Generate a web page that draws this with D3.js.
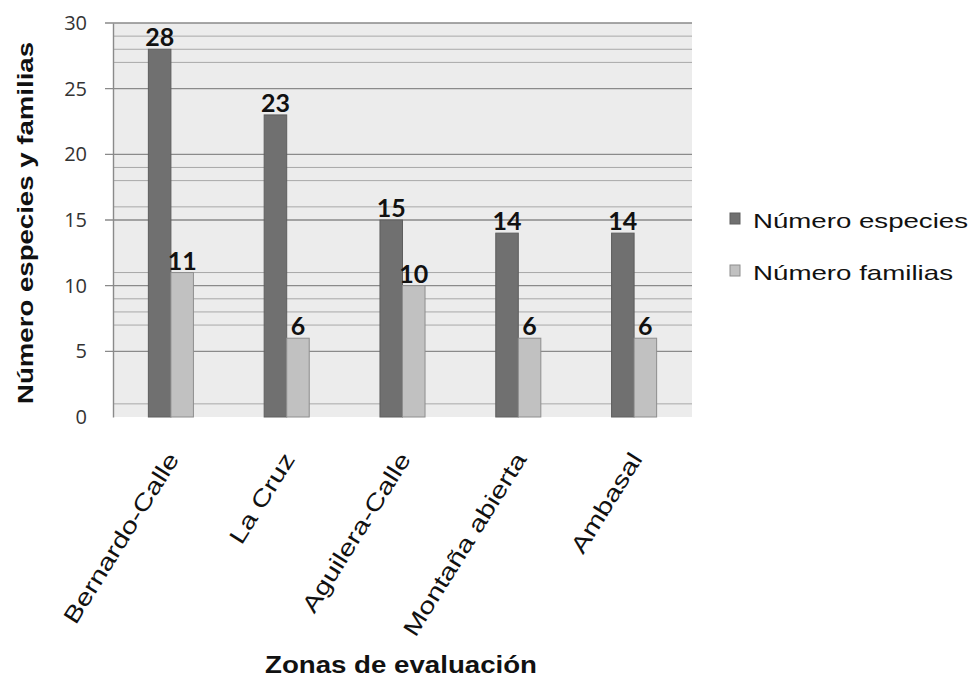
<!DOCTYPE html>
<html>
<head>
<meta charset="utf-8">
<script src="https://cdn.jsdelivr.net/npm/d3@7"></script>
<style>
  html, body { margin: 0; padding: 0; background: #fff; }
  svg { display: block; }
</style>
</head>
<body>
<svg id="chart" width="976" height="681"></svg>
<script>
const categories = ["Bernardo-Calle", "La Cruz", "Aguilera-Calle", "Montaña abierta", "Ambasal"];
const seriesNames = ["Número especies", "Número familias"];
const especies = [28, 23, 15, 14, 14];
const familias = [11, 6, 10, 6, 6];
const majorTicks = [0, 5, 10, 15, 20, 25, 30];
const minorGrid = [29, 28, 27, 19, 18, 16, 11, 9, 8, 7, 1];

(function () {
const svg = d3.select("#chart");
const pL = 113, pR = 692, pT = 23, pB = 417;

const x = d3.scaleBand().domain(categories).range([pL, pR]);
const x1 = d3.scaleBand().domain(seriesNames).range([0, x.bandwidth()]).paddingOuter(1.57);
const y = d3.scaleLinear().domain([0, 30]).range([pB, pT]);
const color = d3.scaleOrdinal().domain(seriesNames).range(["#707070", "#c1c1c1"]);
const stroke = d3.scaleOrdinal().domain(seriesNames).range(["#5e5e5e", "#8e8e8e"]);

// plot background
svg.append("rect").attr("x", pL).attr("y", pT)
  .attr("width", pR - pL).attr("height", pB - pT)
  .attr("fill", "#ececec");

// minor grid
svg.append("g").selectAll("line").data(minorGrid).join("line")
  .attr("x1", pL).attr("x2", pR)
  .attr("y1", d => y(d)).attr("y2", d => y(d))
  .attr("stroke", "#a8a8a8").attr("stroke-width", 1);

// major grid + ticks
svg.append("g").selectAll("line").data(majorTicks.filter(d => d > 0)).join("line")
  .attr("x1", pL - 8).attr("x2", pR)
  .attr("y1", d => y(d)).attr("y2", d => y(d))
  .attr("stroke", "#8a8a8a").attr("stroke-width", 1.4);

// y axis labels
const yAxis = svg.append("g").attr("transform", `translate(${pL},0)`)
  .call(d3.axisLeft(y).tickValues(majorTicks).tickSize(0).tickPadding(26));
yAxis.select(".domain").attr("stroke", "#8a8a8a").attr("stroke-width", 1.4);
yAxis.selectAll("text")
  .attr("font-family", "'Open Sans', Lato, sans-serif")
  .attr("font-size", 20).attr("fill", "#333");

// bars
const data = categories.map((c, i) => ({cat: c, vals: [
  {s: seriesNames[0], v: especies[i]},
  {s: seriesNames[1], v: familias[i]}
]}));

const groups = svg.append("g").selectAll("g").data(data).join("g")
  .attr("transform", d => `translate(${x(d.cat)},0)`);

groups.selectAll("rect").data(d => d.vals).join("rect")
  .attr("x", d => x1(d.s))
  .attr("y", d => y(d.v))
  .attr("width", x1.bandwidth())
  .attr("height", d => y(0) - y(d.v))
  .attr("fill", d => color(d.s))
  .attr("stroke", d => stroke(d.s))
  .attr("stroke-width", 1);

groups.selectAll("text").data(d => d.vals).join("text")
  .attr("x", d => x1(d.s) + x1.bandwidth() / 2)
  .attr("y", d => y(d.v) - 3)
  .attr("text-anchor", "middle")
  .attr("font-family", "Lato, sans-serif")
  .attr("font-weight", "bold")
  .attr("font-size", 25)
  .attr("fill", "#111")
  .text(d => d.v);

// x labels
const xAxis = svg.append("g").attr("transform", `translate(0,${pB})`)
  .call(d3.axisBottom(x).tickSize(0).tickPadding(0));
xAxis.select(".domain").remove();
xAxis.selectAll("text")
  .attr("font-family", "'Liberation Sans', Arial, sans-serif")
  .attr("font-size", 23)
  .attr("fill", "#111")
  .attr("text-anchor", "end")
  .attr("dy", 0)
  .attr("transform", "translate(9,42) rotate(-58)")
  .each(function () {
    const len = this.getComputedTextLength();
    d3.select(this).attr("textLength", len * 1.27).attr("lengthAdjust", "spacingAndGlyphs");
  });

// y title
svg.append("text")
  .attr("transform", `translate(33,${(pT + pB) / 2 + 3}) rotate(-90)`)
  .attr("text-anchor", "middle")
  .attr("font-family", "'Liberation Sans', Arial, sans-serif")
  .attr("font-weight", "bold")
  .attr("font-size", 22)
  .attr("textLength", 362)
  .attr("lengthAdjust", "spacingAndGlyphs")
  .attr("fill", "#111")
  .text("Número especies y familias");

// x title
svg.append("text")
  .attr("x", (265 + 537) / 2).attr("y", 673)
  .attr("text-anchor", "middle")
  .attr("font-family", "'Liberation Sans', Arial, sans-serif")
  .attr("font-weight", "bold")
  .attr("font-size", 23)
  .attr("textLength", 272)
  .attr("lengthAdjust", "spacingAndGlyphs")
  .attr("fill", "#111")
  .text("Zonas de evaluación");

// legend
const legend = svg.append("g").selectAll("g").data(seriesNames).join("g")
  .attr("transform", (d, i) => `translate(730,${213 + i * 52})`);
legend.append("rect").attr("width", 10).attr("height", 11)
  .attr("fill", d => color(d)).attr("stroke", d => stroke(d));
legend.append("text")
  .attr("x", 23).attr("y", 15)
  .attr("font-family", "'Liberation Sans', Arial, sans-serif")
  .attr("font-size", 21)
  .attr("textLength", (d, i) => i === 0 ? 215 : 200)
  .attr("lengthAdjust", "spacingAndGlyphs")
  .attr("fill", "#111")
  .text(d => d);
})();
</script>
</body>
</html>
